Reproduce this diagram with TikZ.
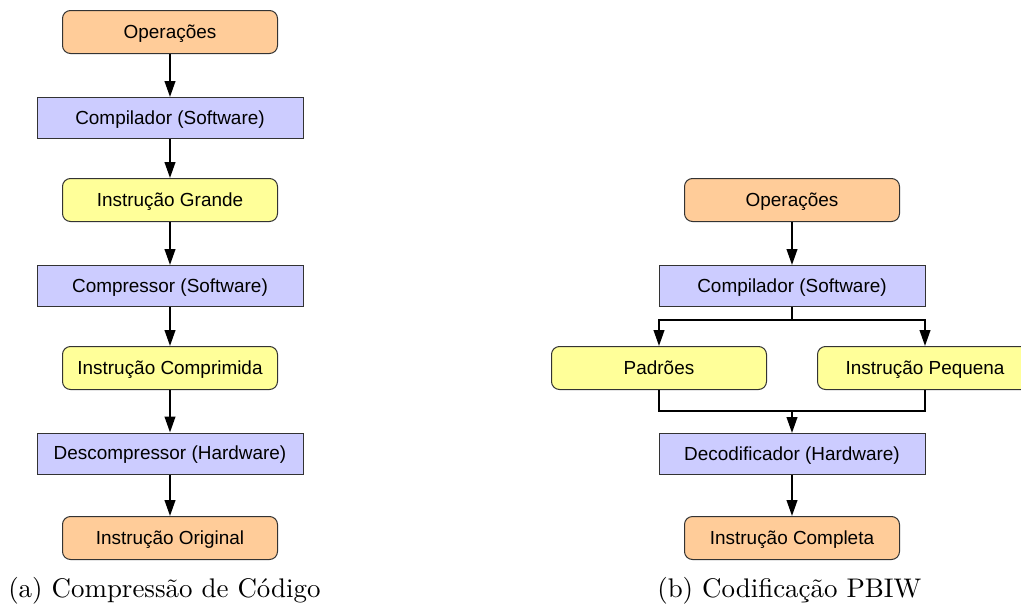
\documentclass[tikz,border=0pt]{standalone}
\usepackage{fontspec}
\newfontfamily\boxfont{Liberation Sans}
\newfontfamily\capfont{lmroman10-regular.otf}
\usetikzlibrary{arrows.meta}
\definecolor{opfill}{HTML}{FFCC99}
\definecolor{swfill}{HTML}{CCCCFF}
\definecolor{insfill}{HTML}{FFFF99}
\definecolor{edge}{HTML}{333333}
\tikzset{
  base/.style={draw=edge, line width=0.75pt, inner sep=0pt, align=center,
    text height=10.2pt, text depth=1.2pt,
    font=\boxfont\fontsize{14.2}{17}\selectfont},
  roundbox/.style={base, rounded corners=6pt, minimum width=161.25pt, minimum height=32.25pt},
  opbox/.style={roundbox, fill=opfill},
  insbox/.style={roundbox, fill=insfill},
  swbox/.style={base, fill=swfill, minimum width=199.5pt, minimum height=30.75pt},
  arr/.style={line width=1.5pt, -{Triangle[length=12pt,width=8pt]}},
  wire/.style={line width=1.5pt},
  caption/.style={inner sep=0pt, anchor=base west, font=\capfont\fontsize{20.2}{24}\selectfont}
}
\begin{document}
\begin{tikzpicture}[x=0.75pt, y=-0.75pt]
\useasboundingbox (0,0) rectangle (1021,607);

% (a) code compression flow
\node[opbox]  (opsA)   at (170,32)  {Operações};
\node[swbox]  (compA)  at (170,118) {Compilador (Software)};
\node[insbox] (bigA)   at (170,200) {Instrução Grande};
\node[swbox]  (cmprA)  at (170,286) {Compressor (Software)};
\node[insbox] (cmpdA)  at (170,368) {Instrução Comprimida};
\node[swbox]  (dcmpA)  at (170,453.5) {Descompressor (Hardware)};
\node[opbox]  (origA)  at (170,538) {Instrução Original};

\draw[arr] (opsA) -- (compA);
\draw[arr] (compA) -- (bigA);
\draw[arr] (bigA) -- (cmprA);
\draw[arr] (cmprA) -- (cmpdA);
\draw[arr] (cmpdA) -- (dcmpA);
\draw[arr] (dcmpA) -- (origA);

% (b) PBIW encoding flow
\node[opbox]  (opsB)  at (792,200) {Operações};
\node[swbox]  (compB) at (792,286) {Compilador (Software)};
\node[insbox] (patB)  at (659,368) {Padrões};
\node[insbox] (smlB)  at (925,368) {Instrução Pequena};
\node[swbox]  (decB)  at (792,454) {Decodificador (Hardware)};
\node[opbox]  (fullB) at (792,538) {Instrução Completa};

\coordinate (split) at (792,320);
\coordinate (merge) at (792,411);

\draw[arr] (opsB) -- (compB);
\draw[arr] (compB.south) -- (split) -| (patB.north);
\draw[arr] (compB.south) -- (split) -| (smlB.north);
\draw[wire] (patB.south) |- (merge);
\draw[wire] (smlB.south) |- (merge);
\draw[arr] (merge) -- (decB.north);
\draw[arr] (decB) -- (fullB);

% sub-captions
\node[caption] (capA) at (8,597)   {(a) Compressão de Código};
\node[caption] (capB) at (657,597) {(b) Codificação PBIW};
\end{tikzpicture}
\end{document}
